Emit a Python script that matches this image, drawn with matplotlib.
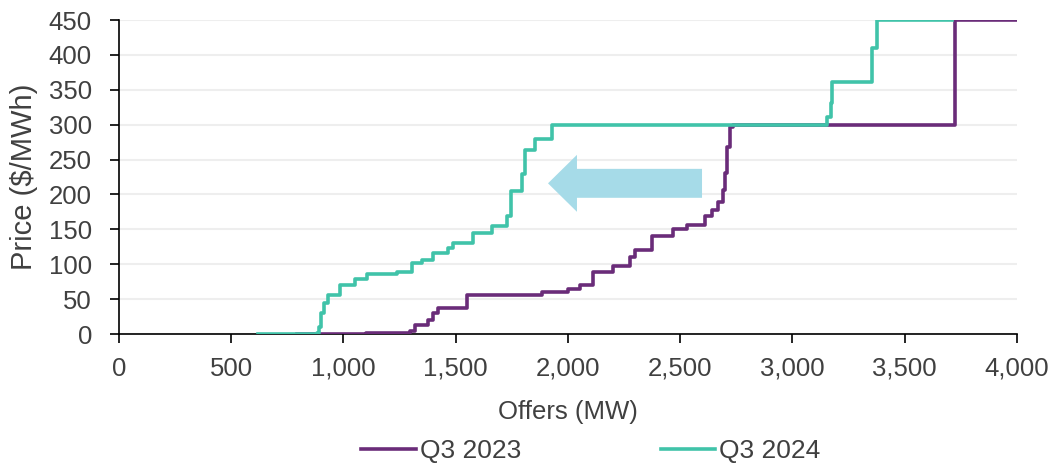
import matplotlib
matplotlib.use("Agg")
import matplotlib.pyplot as plt
from matplotlib.patches import FancyArrow

plt.rcParams['font.family'] = ['Liberation Sans', 'DejaVu Sans']

# Q3 2023 offer curve (MW, $/MWh), step-post
mw_2023 = [793, 1100, 1296, 1320, 1376, 1400, 1421, 1550, 1884, 2000, 2053, 2111,
           2200, 2276, 2298, 2374, 2468, 2530, 2610, 2641, 2668, 2690, 2700, 2708,
           2722, 2735, 3724, 4000]
price_2023 = [0, 1, 5, 13, 20, 30, 37, 56, 60, 64, 70, 89,
              97, 110, 120, 140, 150, 156, 169, 178, 189, 206, 231, 268,
              297, 300, 450, 450]

# Q3 2024 offer curve
mw_2024 = [619, 880, 890, 900, 915, 930, 984, 1051, 1105, 1238, 1305, 1350, 1399,
           1466, 1488, 1577, 1661, 1728, 1746, 1795, 1808, 1853, 1929, 3154, 3170,
           3176, 3354, 3376, 3710]
price_2024 = [0, 2, 10, 30, 45, 56, 70, 79, 86, 89, 102, 106, 116,
              123, 130, 145, 155, 169, 205, 230, 264, 279, 300, 311, 331,
              361, 410, 450, 450]

x_ticks = [0, 500, 1000, 1500, 2000, 2500, 3000, 3500, 4000]
y_ticks = [0, 50, 100, 150, 200, 250, 300, 350, 400, 450]

purple = '#6a2c79'
teal = '#40c3a9'
text_col = '#404040'

fig = plt.figure(figsize=(10.53, 4.63), dpi=100)
ax = fig.add_axes([0.113, 0.2786, 0.8528, 0.678])

ax.plot(mw_2023, price_2023, drawstyle='steps-post', color=purple, lw=2.6,
        label='Q3 2023', zorder=3)
ax.plot(mw_2024, price_2024, drawstyle='steps-post', color=teal, lw=2.6,
        label='Q3 2024', zorder=3)

# arrow showing leftward shift
arr = FancyArrow(2597, 216, -686, 0, width=41.5, head_width=81.7,
                 head_length=129, length_includes_head=True,
                 color='#a6dbe8', lw=0, zorder=2)
ax.add_patch(arr)

ax.set_xlim(0, 4000)
ax.set_ylim(0, 450)
ax.set_xticks(x_ticks)
ax.set_xticklabels([f'{v:,}' for v in x_ticks])
ax.set_yticks(y_ticks)
ax.grid(axis='y', color='#eeeeee', lw=1.5, zorder=0)
ax.set_axisbelow(True)
for s in ['top', 'right']:
    ax.spines[s].set_visible(False)
for s in ['left', 'bottom']:
    ax.spines[s].set_color('black')
    ax.spines[s].set_linewidth(1.2)
ax.tick_params(axis='both', direction='out', length=6.5, width=1.2,
               colors='black', labelcolor=text_col, labelsize=18.5)
ax.tick_params(axis='x', pad=10)
ax.tick_params(axis='y', pad=13)
ax.set_xlabel('Offers (MW)', fontsize=18.5, color=text_col, labelpad=14)
ax.set_ylabel('Price ($/MWh)', fontsize=21, color=text_col, labelpad=8)

leg = fig.legend(loc='center', bbox_to_anchor=(0.561, 0.026), ncol=2,
                 frameon=False, fontsize=19, handlelength=2.05, handletextpad=0.15,
                 columnspacing=5.3)
for t in leg.get_texts():
    t.set_color(text_col)

fig.savefig('out.png', dpi=100)
